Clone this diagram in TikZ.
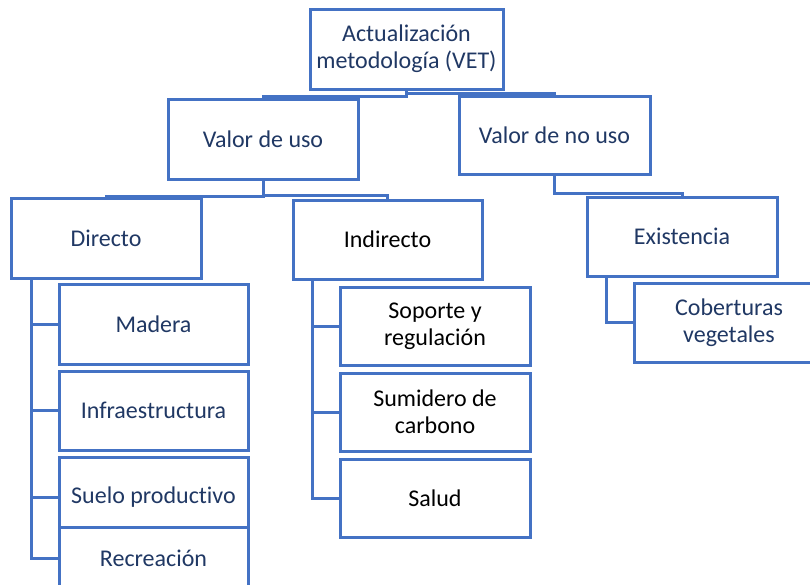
\documentclass[tikz,border=0pt]{standalone}
\usepackage{fontspec}
\setmainfont{Carlito}[Ligatures=NoCommon]
\usepackage{tikz}
\usetikzlibrary{positioning}
\definecolor{boxblue}{HTML}{4472C4}
\definecolor{textnavy}{HTML}{203864}
\tikzset{
  box/.style={rectangle, draw=boxblue, fill=white, line width=3pt, outer sep=0pt, inner sep=0pt,
              minimum width=190pt, minimum height=80pt, align=center, text=textnavy,
              font=\fontsize{24pt}{27pt}\selectfont},
  dark/.style={text=black},
  link/.style={draw=boxblue, line width=3pt},
}

\begin{document}
\begin{tikzpicture}[x=1pt, y=-1pt]
  \useasboundingbox (0,0) rectangle (810,584);
  \clip (0,0) rectangle (810,584);

  \node[box, minimum width=193pt] (root) at (406.5,49) {Actualización\\metodología (VET)};
  \node[box] (vuso) at (263,139) {Valor de uso};
  \node[box, minimum width=191pt, minimum height=78pt] (vnouso) at (554.5,135) {Valor de no uso};

  \node[box] (directo) at (106,238) {Directo};
  \node[box, minimum width=189pt, minimum height=79pt, dark] (indirecto) at (387.5,239.5) {Indirecto};
  \node[box, minimum height=79pt] (existencia) at (682,236.5) {Existencia};

  % directo
  \node[box, minimum width=189pt] (madera) at (153.5,324) {Madera};
  \node[box, minimum width=189pt, minimum height=79pt] (infra) [below=7pt of madera] {Infraestructura};
  \node[box, minimum width=189pt] (suelo) [below=7pt of infra] {Suelo productivo};
  \node[box, minimum width=189pt, minimum height=62pt] (recre) at (153.5,558) {Recreación};

  % indirecto
  \node[box, minimum height=78pt, dark] (soporte) at (435,326) {Soporte y\\regulación};
  \node[box, minimum height=78pt, dark] (sumidero) [below=8pt of soporte] {Sumidero de\\carbono};
  \node[box, minimum height=78pt, dark] (salud) [below=8pt of sumidero] {Salud};

  % existencia
  \node[box, minimum height=79pt] (cober) at (729,322.5) {Coberturas\\vegetales};

  \draw[link] (root.south) -- ++(0,7) -| (vuso.north);
  \draw[link] (root.south) -- ++(0,4) -| (vnouso.north);
  \draw[link] (vuso.south) -- ++(0,17) -| (directo.north);
  \draw[link] (vuso.south) -- ++(0,16) -| (indirecto.north);
  \draw[link] (vnouso.south) -- ++(0,19) -| (existencia.north);

  \foreach \c in {madera,infra,suelo,recre}
    \draw[link] ([xshift=20pt]directo.south west) |- (\c.west);
  \foreach \c in {soporte,sumidero,salud}
    \draw[link] ([xshift=19pt]indirecto.south west) |- (\c.west);
  \draw[link] ([xshift=19pt]existencia.south west) |- (cober.west);
\end{tikzpicture}
\end{document}
